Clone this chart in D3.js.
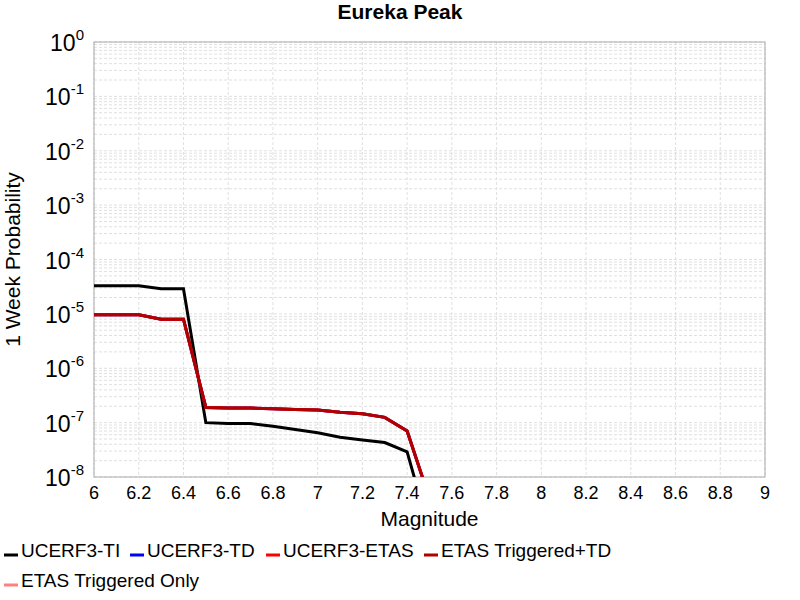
<!DOCTYPE html>
<html><head><meta charset="utf-8">
<script src="https://cdn.jsdelivr.net/npm/d3@7"></script>
<style>body{margin:0;background:#fff}text{font-family:"Liberation Sans",Arial,sans-serif}</style>
</head><body><svg width="800" height="600"></svg>
<script>
var mags = [6.0,6.1,6.2,6.3,6.4,6.5,6.6,6.7,6.8,6.9,7.0,7.1,7.2,7.3,7.4,7.5];
var ti   = [3.3e-5,3.3e-5,3.3e-5,2.9e-5,2.9e-5,1.0e-7,9.6e-8,9.6e-8,8.6e-8,7.5e-8,6.5e-8,5.4e-8,4.8e-8,4.3e-8,2.9e-8,1e-9];
var td   = [9.6e-6,9.6e-6,9.6e-6,8.0e-6,8.0e-6,1.9e-7,1.85e-7,1.85e-7,1.8e-7,1.75e-7,1.7e-7,1.55e-7,1.45e-7,1.25e-7,7.0e-8,4e-9];
var etas = td.slice();
var trigTd = td.slice();
var seriesNames = ["UCERF3-TI","UCERF3-TD","UCERF3-ETAS","ETAS Triggered+TD","ETAS Triggered Only"];
var seriesColors = ["#000000","#0000ff","#ff0000","#b00000","#ff8080"];
var seriesData = [ti, td, etas, trigTd, null];

var svg = d3.select("svg");
var L=94,R=765,T=42,B=477;
var x = d3.scaleLinear().domain([6,9]).range([L,R]);
var y = d3.scaleLog().domain([1e-8,1]).range([B,T]);

var g = svg.append("g");
g.append("clipPath").attr("id","c").append("rect").attr("x",L).attr("y",T).attr("width",R-L).attr("height",B-T);

var minors=[];
for (var e=-8;e<0;e++) for (var k=1;k<10;k++) minors.push(k*Math.pow(10,e));
minors.push(1);
g.selectAll(".hy").data(minors).enter().append("line")
  .attr("x1",L).attr("x2",R).attr("y1",d=>y(d)).attr("y2",d=>y(d))
  .attr("stroke","#d8d8d8").attr("stroke-dasharray","3,2").attr("stroke-width",0.8);
var xt = d3.range(0,31,2).map(i=>6+i/10);
g.selectAll(".vx").data(xt).enter().append("line")
  .attr("y1",T).attr("y2",B).attr("x1",d=>x(d)).attr("x2",d=>x(d))
  .attr("stroke","#d8d8d8").attr("stroke-dasharray","3,2").attr("stroke-width",0.8);
g.append("rect").attr("x",L).attr("y",T).attr("width",R-L).attr("height",B-T)
  .attr("fill","none").attr("stroke","#aaa");

var line = d3.line().x((d,i)=>x(mags[i])).y(d=>y(d));
seriesData.forEach(function(s,i){
  if(!s) return;
  g.append("path").datum(s).attr("d",line).attr("fill","none")
   .attr("stroke",seriesColors[i]).attr("stroke-width",3).attr("clip-path","url(#c)");
});

g.selectAll(".xl").data(xt).enter().append("text")
  .attr("x",d=>x(d)).attr("y",B+22).attr("text-anchor","middle").attr("font-size",18)
  .text(d=>d3.format("~g")(+d.toFixed(1)));
d3.range(-8,1).forEach(function(e){
  var t = g.append("text").attr("x",L-10).attr("y",y(Math.pow(10,e))+9).attr("text-anchor","end").attr("font-size",23);
  t.append("tspan").text("10");
  t.append("tspan").attr("dy",-11).attr("font-size",15).text(e);
});

svg.append("text").attr("x",400).attr("y",19).attr("text-anchor","middle").attr("font-size",21).attr("font-weight","bold").text("Eureka Peak");
svg.append("text").attr("x",(L+R)/2).attr("y",526).attr("text-anchor","middle").attr("font-size",21).text("Magnitude");
svg.append("text").attr("transform","translate(20,"+((T+B)/2)+") rotate(-90)").attr("text-anchor","middle").attr("font-size",21).text("1 Week Probability");

var lx=[4,130,266,424,4], ly=[556,556,556,556,586];
seriesNames.forEach(function(n,i){
  svg.append("line").attr("x1",lx[i]).attr("x2",lx[i]+14).attr("y1",ly[i]-1).attr("y2",ly[i]-1)
    .attr("stroke",seriesColors[i]).attr("stroke-width",3);
  svg.append("text").attr("x",lx[i]+17).attr("y",ly[i]+1).attr("font-size",19).text(n);
});
</script></body></html>
